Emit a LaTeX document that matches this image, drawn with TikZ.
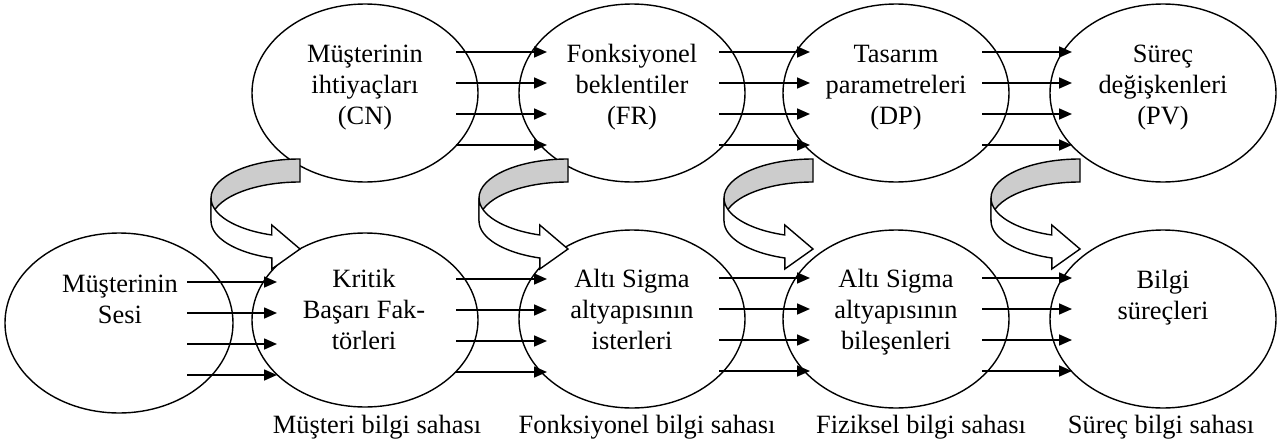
\documentclass[tikz,border=0pt]{standalone}
\usepackage{fontspec}
\setmainfont{Liberation Serif}
\usetikzlibrary{arrows.meta,calc,shapes.geometric}
\newcommand\ribbonarrow[1]{%
  \draw[ribbon, fill=gray!40] (#1,159) arc[start angle=90, end angle=180, x radius=89pt, y radius=39pt]
     -- ++(0,23) arc[start angle=180, end angle=90, x radius=89pt, y radius=39pt] -- cycle;
  \draw[ribbon, fill=white] (#1-89,198) arc[start angle=180, end angle=251.5, x radius=89pt, y radius=39pt]
     -- ++(0,-10) -- (#1,249) -- ++(-28.2,20) -- ++(0,-11)
     arc[start angle=251.5, end angle=180, x radius=89pt, y radius=39pt] -- cycle;
}
\begin{document}
\begin{tikzpicture}[x=1pt,y=-1pt,
  oval/.style={draw, line width=1.4pt, ellipse, fill=white, inner sep=0pt, minimum width=226pt, minimum height=178pt},
  txt/.style={font=\fontsize{26.4}{31}\selectfont, align=center, inner sep=0pt},
  conn/.style={line width=1.6pt, -{Triangle[length=13pt,width=11pt]}},
  ribbon/.style={draw, line width=1.4pt, line join=miter}]
\useasboundingbox (0,0) rectangle (1282,447);
% ellipses
\node[oval] (cn) at (365,93) {};
\node[oval] (fr) at (632,93) {};
\node[oval] (dp) at (896,93) {};
\node[oval] (pv) at (1163,93) {};
\node[oval, minimum width=228pt, minimum height=180pt] (ms) at (119,323) {};
\node[oval, minimum height=174pt] (kf) at (365,320) {};
\node[oval] (as) at (632,319) {};
\node[oval] (ab) at (896,319) {};
\node[oval] (bs) at (1163,319) {};
% texts (anchor=base is the baseline of the last line)
\node[txt, anchor=base] (cnt) at (365,124) {Müşterinin\\ihtiyaçları\\(CN)};
\node[txt, anchor=base] (frt) at (632,124) {Fonksiyonel\\beklentiler\\(FR)};
\node[txt, anchor=base] (dpt) at (896,124) {Tasarım\\parametreleri\\(DP)};
\node[txt, anchor=base] (pvt) at (1163,124) {Süreç\\değişkenleri\\(PV)};
\node[txt, anchor=base] (mst) at (120,323) {Müşterinin\\Sesi};
\node[txt, anchor=base] (kft) at (364,349) {Kritik\\Başarı Fak-\\törleri};
\node[txt, anchor=base] (ast) at (632,349) {Altı Sigma\\altyapısının\\isterleri};
\node[txt, anchor=base] (abt) at (896,349) {Altı Sigma\\altyapısının\\bileşenleri};
\node[txt, anchor=base] (bst) at (1163,319) {Bilgi\\süreçleri};
% domain labels
\node[txt, anchor=base] (l1) at (377,433) {Müşteri bilgi sahası};
\node[txt, anchor=base] (l2) at (647,433) {Fonksiyonel bilgi sahası};
\node[txt, anchor=base] (l3) at (921,433) {Fiziksel bilgi sahası};
\node[txt, anchor=base] (l4) at (1161,433) {Süreç bilgi sahası};
% horizontal arrows
\foreach \a/\b/\s/\t in {cn/fr/91/85, fr/dp/87/86, dp/pv/86/91, ms/kf/68/88, kf/as/91/85, as/ab/87/86, ab/bs/86/91}{
  \foreach \dy in {-41,-10,21,52}{
    \coordinate (s) at ($(\a.center)+(\s,\dy)$);
    \coordinate (e) at ($(\b.center)+(-\t,0)$);
    \draw[conn] (s) -- (s -| e);
  }
}
% curved ribbon arrows
\ribbonarrow{300}
\ribbonarrow{568}
\ribbonarrow{813}
\ribbonarrow{1080}
\end{tikzpicture}
\end{document}
